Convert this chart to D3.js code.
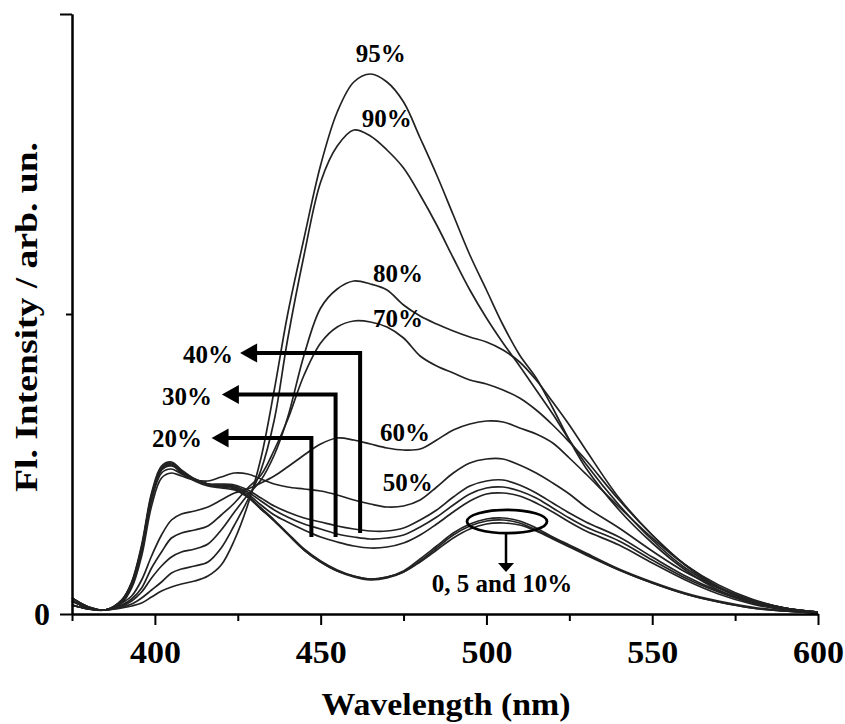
<!DOCTYPE html>
<html>
<head>
<meta charset="utf-8">
<script src="https://cdn.jsdelivr.net/npm/d3@7"></script>
<style>
  html, body { margin: 0; padding: 0; background: #fff; }
  svg { display: block; }
  text { font-family: "Liberation Serif", "Times New Roman", serif; font-weight: bold; fill: #000; }
</style>
</head>
<body>
<div id="chart"></div>
<script>
// ===========================================================
// DATA (arb. units)
// ===========================================================
const wavelengths = [375, 380, 385, 390, 393, 396, 399, 402, 405, 408, 412, 416, 420, 424, 428, 432, 436, 440, 445, 450,
    455, 460, 465, 470, 475, 480, 485, 490, 495, 500, 505, 510, 515, 520, 525, 530, 540, 550, 560, 570, 580, 590, 600];

const pct0  = [16, 7, 4, 14, 32, 69, 121, 148, 152, 144, 135, 130, 128, 126, 118, 106, 94, 81, 65, 53,
    44, 38, 35, 37, 43, 55, 68, 81, 90, 95, 96, 93, 86, 77, 69, 61, 45, 32, 21, 13, 7, 3, 1];
const pct5  = [16, 7, 4, 14, 31, 67, 119, 146, 151, 143, 134, 129, 127, 125, 117, 105, 93, 80, 64, 52,
    43, 37, 34, 36, 42, 53, 66, 79, 88, 93, 94, 91, 84, 76, 68, 60, 44, 31, 20, 12, 6, 3, 1];
const pct10 = [16, 7, 4, 14, 31, 66, 117, 144, 149, 141, 133, 128, 126, 124, 117, 105, 93, 80, 64, 52,
    43, 38, 35, 37, 42, 52, 64, 76, 85, 90, 91, 89, 83, 75, 67, 59, 44, 31, 20, 12, 6, 3, 1];
const pct20 = [13, 6, 4, 13, 30, 66, 118, 146, 150, 143, 135, 130, 128, 127, 120, 109, 99, 92, 84, 77,
    72, 68, 66, 67, 71, 79, 90, 102, 113, 120, 121, 118, 111, 102, 92, 83, 69, 51, 34, 20, 10, 4, 1];
const pct30 = [13, 6, 4, 13, 29, 64, 116, 144, 148, 142, 135, 130, 129, 128, 122, 113, 104, 97, 90, 85,
    80, 77, 75, 76, 79, 87, 97, 109, 120, 126, 127, 123, 116, 106, 96, 87, 73, 54, 36, 22, 11, 5, 1];
const pct40 = [13, 6, 4, 12, 28, 62, 113, 141, 145, 140, 134, 130, 130, 129, 124, 116, 108, 102, 96, 92,
    88, 85, 83, 83, 86, 94, 104, 117, 128, 133, 134, 129, 121, 111, 101, 92, 77, 57, 38, 23, 12, 5, 1];
const pct50 = [13, 6, 4, 11, 26, 58, 108, 136, 141, 138, 134, 133, 137, 141, 140, 135, 130, 127, 125, 123,
    119, 114, 110, 107, 108, 114, 127, 141, 151, 155, 155, 149, 141, 131, 120, 107, 86, 63, 42, 26, 13, 6, 2];
const pct60 = [9, 5, 4, 11, 18, 34, 58, 79, 94, 100, 103, 107, 114, 121, 125, 131, 138, 147, 159, 170,
    176, 174, 170, 166, 164, 165, 174, 184, 190, 193, 192, 186, 180, 171, 156, 140, 107, 76, 49, 29, 15, 6, 2];
const pct70 = [9, 5, 4, 9, 15, 26, 46, 62, 76, 81, 84, 88, 99, 111, 126, 139, 164, 194, 239, 271,
    287, 293, 292, 287, 276, 258, 248, 241, 234, 230, 224, 216, 204, 189, 172, 154, 114, 79, 49, 27, 14, 6, 2];
const pct80 = [9, 5, 4, 8, 13, 22, 36, 48, 57, 62, 65, 70, 84, 102, 119, 134, 159, 196, 259, 306,
    325, 333, 330, 324, 309, 298, 290, 283, 277, 272, 264, 252, 234, 212, 189, 164, 116, 79, 49, 27, 14, 6, 2];
const pct90 = [9, 5, 4, 7, 10, 16, 24, 32, 41, 45, 48, 52, 66, 89, 114, 144, 194, 274, 359, 432,
    468, 484, 478, 464, 446, 419, 389, 356, 324, 296, 271, 248, 224, 200, 174, 150, 109, 74, 46, 26, 13, 6, 2];
const pct95 = [9, 5, 4, 6, 8, 11, 17, 23, 27, 30, 33, 38, 49, 74, 109, 156, 224, 299, 376, 449,
    502, 532, 540, 532, 512, 476, 439, 399, 359, 324, 289, 259, 236, 206, 174, 146, 104, 71, 44, 24, 12, 5, 2];

const seriesNames = ["0%", "5%", "10%", "20%", "30%", "40%", "50%", "60%", "70%", "80%", "90%", "95%"];
const seriesValues = [pct0, pct5, pct10, pct20, pct30, pct40, pct50, pct60, pct70, pct80, pct90, pct95];

const xMajorTicks = [400, 450, 500, 550, 600];
const xMinorTicks = [375, 425, 475, 525, 575];
const yMajorTicks = [0, 600];
const yMinorTicks = [300];

// ===========================================================
// SETUP
// ===========================================================
const width = 845;
const height = 724;

const svg = d3.select("#chart").append("svg")
    .attr("width", width)
    .attr("height", height);

const x = d3.scaleLinear().domain([375, 600]).range([72, 818]);
const y = d3.scaleLinear().domain([0, 600]).range([614, 14]);

// ===========================================================
// CURVES
// ===========================================================
const line = d3.line()
    .x(d => x(d[0]))
    .y(d => y(d[1]))
    .curve(d3.curveCatmullRom.alpha(0.5));

svg.append("g")
    .selectAll("path")
    .data(seriesValues.map((vals, i) => ({ name: seriesNames[i], pts: wavelengths.map((w, j) => [w, vals[j]]) })))
    .join("path")
    .attr("d", d => line(d.pts))
    .attr("fill", "none")
    .attr("stroke", "#222")
    .attr("stroke-width", 1.7);

// ===========================================================
// AXES
// ===========================================================
const xAxisMajor = svg.append("g")
    .attr("transform", `translate(0,${y(0)})`)
    .call(d3.axisBottom(x).tickValues(xMajorTicks).tickSize(11).tickSizeOuter(0).tickFormat(d3.format("d")));

const xAxisMinor = svg.append("g")
    .attr("transform", `translate(0,${y(0)})`)
    .call(d3.axisBottom(x).tickValues(xMinorTicks).tickSize(7).tickSizeOuter(0).tickFormat(""));

xAxisMajor.selectAll("text")
    .attr("y", 49)
    .attr("dy", 0)
    .style("font-size", "32px")
    .attr("textLength", 51)
    .attr("lengthAdjust", "spacingAndGlyphs");

const yAxisMajor = svg.append("g")
    .attr("transform", `translate(${x(375)},0)`)
    .call(d3.axisLeft(y).tickValues(yMajorTicks).tickSize(12).tickSizeOuter(0).tickPadding(10)
        .tickFormat(d => d === 0 ? "0" : ""));

const yAxisMinor = svg.append("g")
    .attr("transform", `translate(${x(375)},0)`)
    .call(d3.axisLeft(y).tickValues(yMinorTicks).tickSize(6).tickSizeOuter(0).tickFormat(""));

yAxisMajor.selectAll("text")
    .style("font-size", "32px");

svg.selectAll(".domain, .tick line")
    .attr("stroke", "#000")
    .attr("stroke-width", 2);

// axis titles
svg.append("text")
    .attr("x", 446)
    .attr("y", 715)
    .attr("text-anchor", "middle")
    .style("font-size", "31px")
    .attr("textLength", 249)
    .attr("lengthAdjust", "spacingAndGlyphs")
    .text("Wavelength (nm)");

svg.append("text")
    .attr("transform", "translate(37,317) rotate(-90)")
    .attr("text-anchor", "middle")
    .style("font-size", "31px")
    .attr("textLength", 350)
    .attr("lengthAdjust", "spacingAndGlyphs")
    .text("Fl. Intensity / arb. un.");

// ===========================================================
// ANNOTATIONS
// ===========================================================
const labelSpots = [
    { text: "95%", wl: 468.1, h: 552 },
    { text: "90%", wl: 469.9, h: 487 },
    { text: "80%", wl: 473.3, h: 332 },
    { text: "70%", wl: 473.3, h: 287 },
    { text: "60%", wl: 475.4, h: 173 },
    { text: "50%", wl: 476.3, h: 123 },
    { text: "40%", wl: 416.0, h: 251 },
    { text: "30%", wl: 409.7, h: 209 },
    { text: "20%", wl: 406.7, h: 167 },
    { text: "0, 5 and 10%", wl: 504.7, h: 22 }
];

svg.append("g")
    .selectAll("text")
    .data(labelSpots)
    .join("text")
    .attr("x", d => x(d.wl))
    .attr("y", d => y(d.h))
    .attr("text-anchor", "middle")
    .style("font-size", "25px")
    .text(d => d.text);

// elbow arrows pointing at the 40/30/20% labels
const elbowArrows = [
    { footWl: 461.9, footH: 81, topH: 261, tipWl: 425.7 },
    { footWl: 454.5, footH: 77, topH: 219.5, tipWl: 420.2 },
    { footWl: 447.2, footH: 77, topH: 176, tipWl: 417.1 }
];

const arrowG = svg.append("g");
elbowArrows.forEach(a => {
    const xf = x(a.footWl), yb = y(a.footH), yt = y(a.topH), xt = x(a.tipWl);
    const headLen = 17, headHalf = 9.5;
    arrowG.append("path")
        .attr("d", `M${xf},${yb} V${yt} H${xt + headLen - 1}`)
        .attr("fill", "none")
        .attr("stroke", "#000")
        .attr("stroke-width", 4)
        .attr("stroke-linejoin", "miter");
    arrowG.append("path")
        .attr("d", `M${xt},${yt} L${xt + headLen},${yt - headHalf} L${xt + headLen},${yt + headHalf} Z`)
        .attr("fill", "#000");
});

// ellipse around the 0, 5 and 10% maxima + down arrow
const ell = { wl: 506.2, h: 92.5, rx: 40, ry: 11.7 };
svg.append("ellipse")
    .attr("cx", x(ell.wl))
    .attr("cy", y(ell.h))
    .attr("rx", ell.rx)
    .attr("ry", ell.ry)
    .attr("fill", "none")
    .attr("stroke", "#000")
    .attr("stroke-width", 2.8);

const ax = x(505.9);
const aTop = y(ell.h) + ell.ry;
const aTip = y(42);
svg.append("line")
    .attr("x1", ax).attr("x2", ax)
    .attr("y1", aTop).attr("y2", aTip - 8)
    .attr("stroke", "#000")
    .attr("stroke-width", 2.5);
svg.append("path")
    .attr("d", `M${ax},${aTip} L${ax - 8},${aTip - 9} L${ax + 8},${aTip - 9} Z`)
    .attr("fill", "#000");
</script>
</body>
</html>
